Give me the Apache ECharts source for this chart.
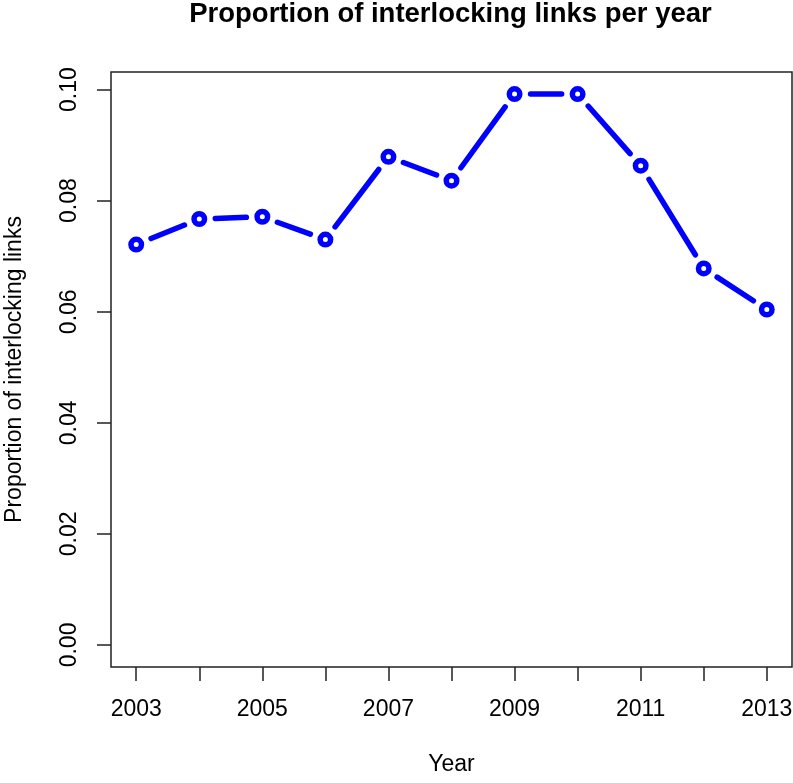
<!DOCTYPE html>
<html>
<head>
<meta charset="utf-8">
<script src="https://cdn.jsdelivr.net/npm/echarts@6/dist/echarts.min.js"></script>
<style>
html,body{margin:0;padding:0;background:#fff;}
#chart{width:793px;height:783px;}
</style>
</head>
<body>
<div id="chart"></div>
<script>
const years = [2003, 2004, 2005, 2006, 2007, 2008, 2009, 2010, 2011, 2012, 2013];
const proportions = [0.0721, 0.0767, 0.0771, 0.0730, 0.0879, 0.0836, 0.0992, 0.0992, 0.0863, 0.0678, 0.0604];
const xTickValues = [2003, 2004, 2005, 2006, 2007, 2008, 2009, 2010, 2011, 2012, 2013];
const xLabelValues = [2003, 2005, 2007, 2009, 2011, 2013];
const yTickValues = [0, 0.02, 0.04, 0.06, 0.08, 0.10];

const FONT = "'Liberation Sans', Arial, Helvetica, sans-serif";
const points = years.map((y, i) => [y, proportions[i]]);
// consecutive point pairs for R-style type="b" line segments (gaps around points)
const segments = years.slice(0, -1).map((y, i) => [y, proportions[i], years[i + 1], proportions[i + 1]]);
const GAP = 16;

function renderSegment(params, api) {
  const p0 = api.coord([api.value(0), api.value(1)]);
  const p1 = api.coord([api.value(2), api.value(3)]);
  const dx = p1[0] - p0[0], dy = p1[1] - p0[1];
  const len = Math.sqrt(dx * dx + dy * dy);
  if (len <= 2 * GAP) return null;
  const ux = dx / len, uy = dy / len;
  return {
    type: 'line',
    shape: {x1: p0[0] + ux * GAP, y1: p0[1] + uy * GAP, x2: p1[0] - ux * GAP, y2: p1[1] - uy * GAP},
    style: {stroke: '#0000ff', lineWidth: 5.5, lineCap: 'round', fill: null}
  };
}

const chart = echarts.init(document.getElementById('chart'), null, {renderer: 'canvas'});
chart.setOption({
  animation: false,
  backgroundColor: '#ffffff',
  title: {
    text: 'Proportion of interlocking links per year',
    left: 450.5,
    top: 0,
    padding: 0,
    textAlign: 'center',
    textStyle: {fontFamily: FONT, fontSize: 27.5, fontWeight: 'bold', color: '#000'}
  },
  grid: {
    left: 111, right: 1, top: 72, bottom: 116,
    containLabel: false,
    outerBoundsMode: 'none',
    show: true, borderColor: '#222', borderWidth: 1.5, backgroundColor: 'transparent'
  },
  xAxis: {
    type: 'value',
    min: 2002.6, max: 2013.4,
    name: 'Year',
    nameLocation: 'middle',
    nameGap: 86,
    nameTextStyle: {fontFamily: FONT, fontSize: 23, color: '#000'},
    axisLine: {show: false, onZero: false},
    splitLine: {show: false},
    axisTick: {show: true, length: 14, inside: false, customValues: xTickValues,
      lineStyle: {color: '#222', width: 1.5}},
    axisLabel: {customValues: xLabelValues, margin: 31, fontFamily: FONT, fontSize: 23, color: '#000',
      formatter: v => String(v)}
  },
  yAxis: {
    type: 'value',
    min: -0.00397, max: 0.10317,
    name: 'Proportion of interlocking links',
    nameLocation: 'middle',
    nameGap: 85,
    nameTextStyle: {fontFamily: FONT, fontSize: 23, color: '#000'},
    axisLine: {show: false, onZero: false},
    splitLine: {show: false},
    axisTick: {show: true, length: 14, inside: false, customValues: yTickValues,
      lineStyle: {color: '#222', width: 1.5}},
    axisLabel: {customValues: yTickValues, rotate: 90, margin: 30, fontFamily: FONT, fontSize: 23, color: '#000',
      formatter: v => v.toFixed(2)}
  },
  series: [
    {
      type: 'custom',
      data: segments,
      encode: {x: [0, 2], y: [1, 3]},
      renderItem: renderSegment,
      silent: true,
      z: 2
    },
    {
      type: 'scatter',
      data: points,
      symbol: 'circle',
      symbolSize: 10.5,
      itemStyle: {color: '#ffffff', borderColor: '#0000ff', borderWidth: 5.5, opacity: 1},
      z: 10
    }
  ]
});
</script>
</body>
</html>
